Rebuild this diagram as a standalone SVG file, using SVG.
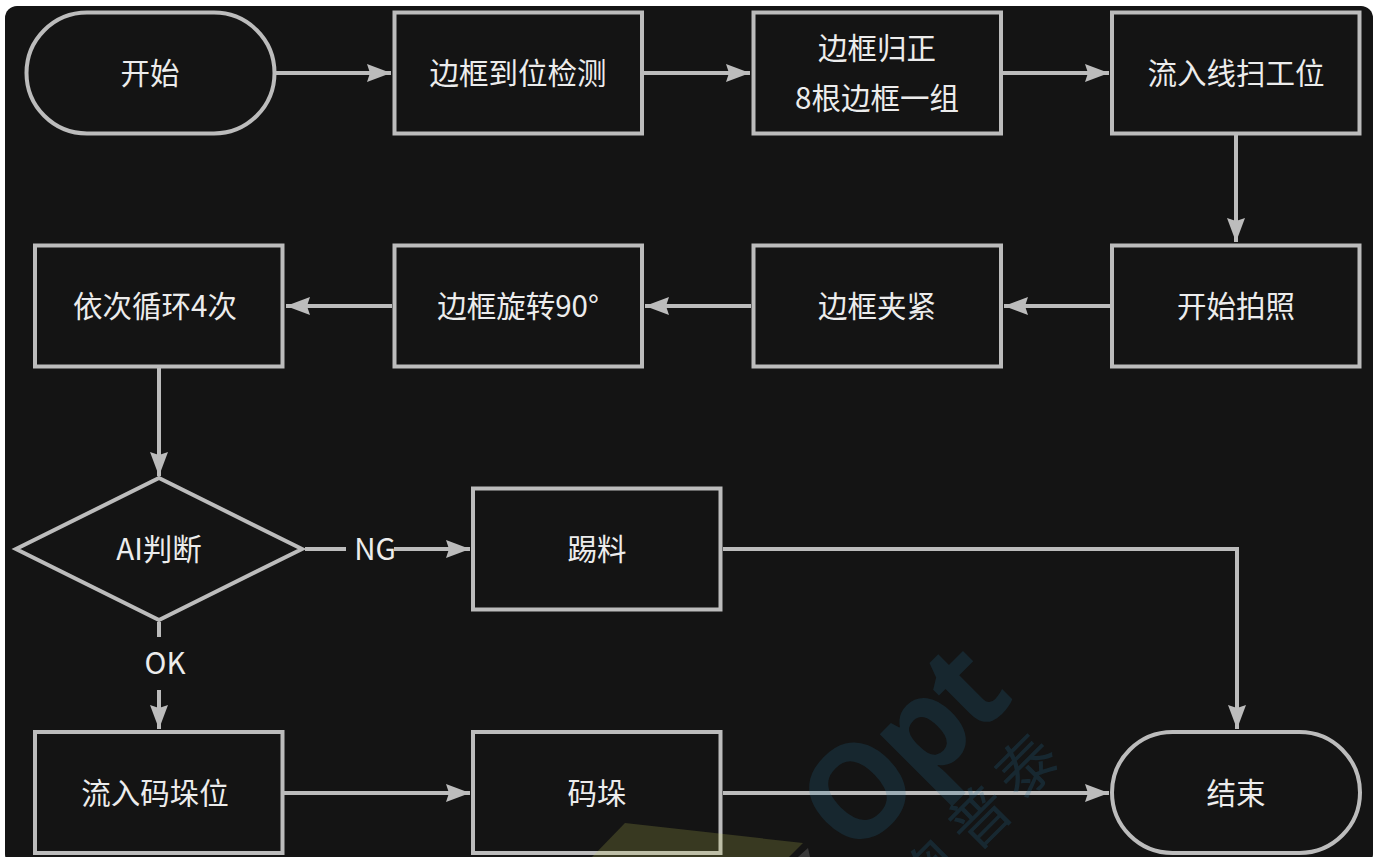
<svg xmlns="http://www.w3.org/2000/svg" width="1377" height="857" viewBox="0 0 1377 857">
<style>
.s{fill:#141414;stroke:#bcbcbc;stroke-width:4}
.t{fill:#ececec;font-family:"Noto Sans CJK SC","Noto Sans",sans-serif;font-size:29.5px;text-anchor:middle}
.c{fill:none;stroke:#bcbcbc;stroke-width:4}
.wm{fill:#23739b;fill-opacity:.2;font-family:"Open Sans","Noto Sans CJK SC",sans-serif;text-anchor:middle;font-weight:700}
.wc{fill:#23739b;fill-opacity:.22;font-family:"Noto Sans CJK SC",sans-serif;text-anchor:middle;font-size:60px}
</style>
<defs>
<marker id="a" markerUnits="userSpaceOnUse" markerWidth="26" markerHeight="20" refX="24" refY="9" orient="auto"><path d="M0 0L24 9L0 18L3 9Z" fill="#bcbcbc"/></marker>
</defs>
<rect x="0" y="0" width="1377" height="857" fill="#fff"/>
<rect x="5" y="6" width="1368" height="860" rx="12" fill="#141414"/>
<g id="connectors">
<path class="c" d="M276 73H391" marker-end="url(#a)"/>
<path class="c" d="M643 73H750" marker-end="url(#a)"/>
<path class="c" d="M1002 73H1109" marker-end="url(#a)"/>
<path class="c" d="M1236 135V242" marker-end="url(#a)"/>
<path class="c" d="M1110 306H1004" marker-end="url(#a)"/>
<path class="c" d="M751 306H645" marker-end="url(#a)"/>
<path class="c" d="M392 306H286" marker-end="url(#a)"/>
<path class="c" d="M159 368V476" marker-end="url(#a)"/>
<path class="c" d="M305 549H346"/>
<path class="c" d="M394 549H470" marker-end="url(#a)"/>
<path class="c" d="M159 622V637"/>
<path class="c" d="M159 690V729" marker-end="url(#a)"/>
<path class="c" d="M284 793H470" marker-end="url(#a)"/>
<path class="c" d="M723 793H1109" marker-end="url(#a)"/>
<path class="c" d="M723 549H1237V729" marker-end="url(#a)"/>
</g>
<g id="start"><rect class="s" x="26.5" y="12.5" width="248" height="121" rx="60.5"/><text class="t" x="150" y="84">开始</text></g>
<g id="n1"><rect class="s" x="394.5" y="12.5" width="247.5" height="121"/><text class="t" x="518" y="84">边框到位检测</text></g>
<g id="n2"><rect class="s" x="753.5" y="12.5" width="247.5" height="121"/><text class="t" x="877" y="59">边框归正</text><text class="t" x="877" y="109">8根边框一组</text></g>
<g id="n3"><rect class="s" x="1112" y="12.5" width="247.5" height="121"/><text class="t" x="1236" y="84">流入线扫工位</text></g>
<g id="n4"><rect class="s" x="1112" y="245.5" width="247.5" height="121"/><text class="t" x="1236" y="317">开始拍照</text></g>
<g id="n5"><rect class="s" x="753.5" y="245.5" width="247.5" height="121"/><text class="t" x="877" y="317">边框夹紧</text></g>
<g id="n6"><rect class="s" x="394.5" y="245.5" width="247.5" height="121"/><text class="t" x="518" y="317">边框旋转90°</text></g>
<g id="n7"><rect class="s" x="35" y="245.5" width="247.5" height="121"/><text class="t" x="155" y="317">依次循环4次</text></g>
<g id="d"><path class="s" d="M159 478L302 549L159 620L16 549Z"/><text class="t" x="159" y="560">AI判断</text></g>
<g id="n8"><rect class="s" x="473" y="488.5" width="247.5" height="121"/><text class="t" x="597" y="560">踢料</text></g>
<g id="n9"><rect class="s" x="35" y="732" width="247.5" height="121"/><text class="t" x="155" y="804">流入码垛位</text></g>
<g id="n10"><rect class="s" x="473" y="732" width="247.5" height="121"/><text class="t" x="597" y="804">码垛</text></g>
<g id="end"><rect class="s" x="1112" y="732" width="248" height="121" rx="60.5"/><text class="t" x="1236" y="804">结束</text></g>
<text class="t" x="375" y="560">NG</text>
<text class="t" x="165" y="674">OK</text>
<polygon points="625,823 803,843 789,857 592,857" fill="#c8cd55" fill-opacity=".2"/>
<polygon points="808,848 810,857 798,857" fill="#fff" fill-opacity=".16"/>
<text class="wm" font-size="130" letter-spacing="-6" transform="translate(902,750) rotate(-45)" x="0" y="44">Opt</text>
<text class="wc" transform="translate(1027,767) rotate(-45)" x="0" y="21">泰</text>
<text class="wc" transform="translate(980,818) rotate(-45)" x="0" y="21">普</text>
<text class="wc" transform="translate(933,871) rotate(-45)" x="0" y="21">奥</text>
</svg>
